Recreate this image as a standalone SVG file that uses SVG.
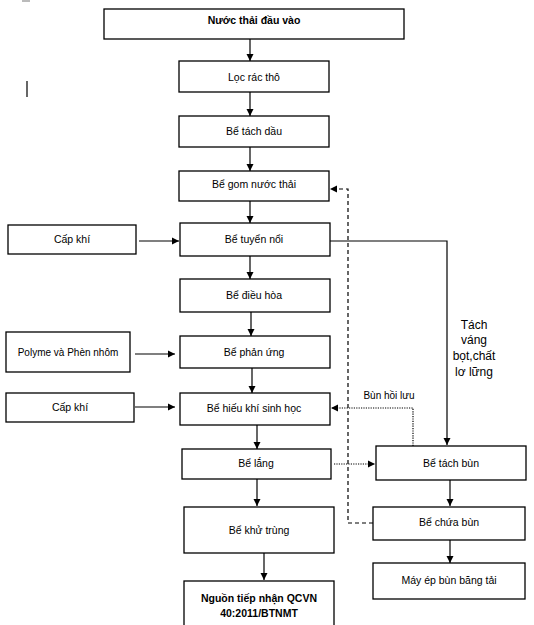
<svg xmlns="http://www.w3.org/2000/svg" width="534" height="625" viewBox="0 0 534 625">
<style>
rect.n{fill:#fff;stroke:#000;stroke-width:1.3}
text{font-family:"Liberation Sans",Arial,sans-serif;font-size:10.5px;fill:#000;text-anchor:middle;dominant-baseline:central}
text.b{font-weight:bold}
text.s{font-size:10px}
text.l{font-size:12px}
.c{fill:none;stroke:#000;stroke-width:1.2}
.dash{stroke-dasharray:4,3}
.dot{stroke-dasharray:1.2,1.2}
</style>
<defs>
<marker id="ah" markerUnits="userSpaceOnUse" markerWidth="8" markerHeight="8" viewBox="0 0 8 8" refX="7" refY="4" orient="auto">
<path d="M0,0.5 L7,4 L0,7.5 Z" fill="#000"/>
</marker>
</defs>
<rect x="22" y="0" width="8" height="2" fill="#bbb"/>
<line x1="27" y1="81" x2="27" y2="97" stroke="#000" stroke-width="1.2"/>
<g id="connectors">
<line class="c" x1="250" y1="39" x2="250" y2="61" marker-end="url(#ah)"/>
<line class="c" x1="250" y1="92" x2="250" y2="116" marker-end="url(#ah)"/>
<line class="c" x1="250" y1="147" x2="250" y2="171" marker-end="url(#ah)"/>
<line class="c" x1="250" y1="201" x2="250" y2="223" marker-end="url(#ah)"/>
<line class="c" x1="250" y1="256" x2="250" y2="279" marker-end="url(#ah)"/>
<line class="c" x1="251" y1="312" x2="251" y2="336" marker-end="url(#ah)"/>
<line class="c" x1="252" y1="368" x2="252" y2="393" marker-end="url(#ah)"/>
<line class="c" x1="257" y1="425" x2="257" y2="449" marker-end="url(#ah)"/>
<line class="c" x1="257" y1="479" x2="257" y2="506" marker-end="url(#ah)"/>
<line class="c" x1="264" y1="553" x2="264" y2="580" marker-end="url(#ah)"/>
<line class="c" x1="139" y1="241" x2="179" y2="241" marker-end="url(#ah)"/>
<line class="c" x1="135" y1="354" x2="175" y2="354" marker-end="url(#ah)"/>
<line class="c" x1="135" y1="407" x2="175" y2="407" marker-end="url(#ah)"/>
<polyline class="c" points="330,241 447,241 447,445" marker-end="url(#ah)"/>
<line class="c dot" x1="334" y1="464" x2="375" y2="464" marker-end="url(#ah)"/>
<polyline class="c dot" stroke-width="1.6" points="413,446 413,408 331,408" marker-end="url(#ah)"/>
<polyline class="c dash" points="373,523 348,523 348,189 330,189" marker-end="url(#ah)"/>
<line class="c" x1="450" y1="480" x2="450" y2="506" marker-end="url(#ah)"/>
<line class="c" x1="450" y1="540" x2="450" y2="563" marker-end="url(#ah)"/>
</g>
<g id="n1"><rect class="n" x="104" y="9" width="300" height="30"/><text class="b" x="254" y="20">Nước thải đầu vào</text></g>
<g id="n2"><rect class="n" x="179" y="61" width="150" height="31"/><text x="254" y="77">Lọc rác thô</text></g>
<g id="n3"><rect class="n" x="179" y="116" width="150" height="31"/><text x="254" y="131">Bể tách dầu</text></g>
<g id="n4"><rect class="n" x="179" y="171" width="150" height="30"/><text x="254" y="184">Bể gom nước thải</text></g>
<g id="n5"><rect class="n" x="180" y="223" width="150" height="33"/><text x="254" y="239">Bể tuyển nổi</text></g>
<g id="n6"><rect class="n" x="180" y="279" width="150" height="33"/><text x="254" y="295">Bể điều hòa</text></g>
<g id="n7"><rect class="n" x="180" y="336" width="150" height="32"/><text x="254" y="352">Bể phản ứng</text></g>
<g id="n8"><rect class="n" x="180" y="393" width="150" height="32"/><text x="254" y="408">Bể hiếu khí sinh học</text></g>
<g id="n9"><rect class="n" x="182" y="449" width="149" height="30"/><text x="256" y="463">Bể lắng</text></g>
<g id="n10"><rect class="n" x="184" y="507" width="150" height="46"/><text x="259" y="530">Bể khử trùng</text></g>
<g id="n11"><rect class="n" x="184" y="581" width="150" height="50"/><text class="b" x="259" y="598">Nguồn tiếp nhận QCVN</text><text class="b" x="259" y="613">40:2011/BTNMT</text></g>
<g id="a1"><rect class="n" x="8" y="225" width="128" height="29"/><text x="72" y="239">Cấp khí</text></g>
<g id="a2"><rect class="n" x="6" y="332" width="124" height="40"/><text class="s" x="68" y="352">Polyme và Phèn nhôm</text></g>
<g id="a3"><rect class="n" x="6" y="393" width="128" height="29"/><text x="70" y="407">Cấp khí</text></g>
<g id="r1"><rect class="n" x="376" y="446" width="150" height="34"/><text x="451" y="463">Bể tách bùn</text></g>
<g id="r2"><rect class="n" x="373" y="507" width="152" height="33"/><text x="449" y="522">Bể chứa bùn</text></g>
<g id="r3"><rect class="n" x="373" y="563" width="152" height="36"/><text x="449" y="580">Máy ép bùn băng tải</text></g>
<g id="labels">
<text class="s" x="389" y="395">Bùn hồi lưu</text>
<text class="l" x="474" y="325">Tách</text>
<text class="l" x="474" y="340">váng</text>
<text class="l" x="474" y="356">bọt,chất</text>
<text class="l" x="474" y="372">lơ lững</text>
</g>
</svg>
